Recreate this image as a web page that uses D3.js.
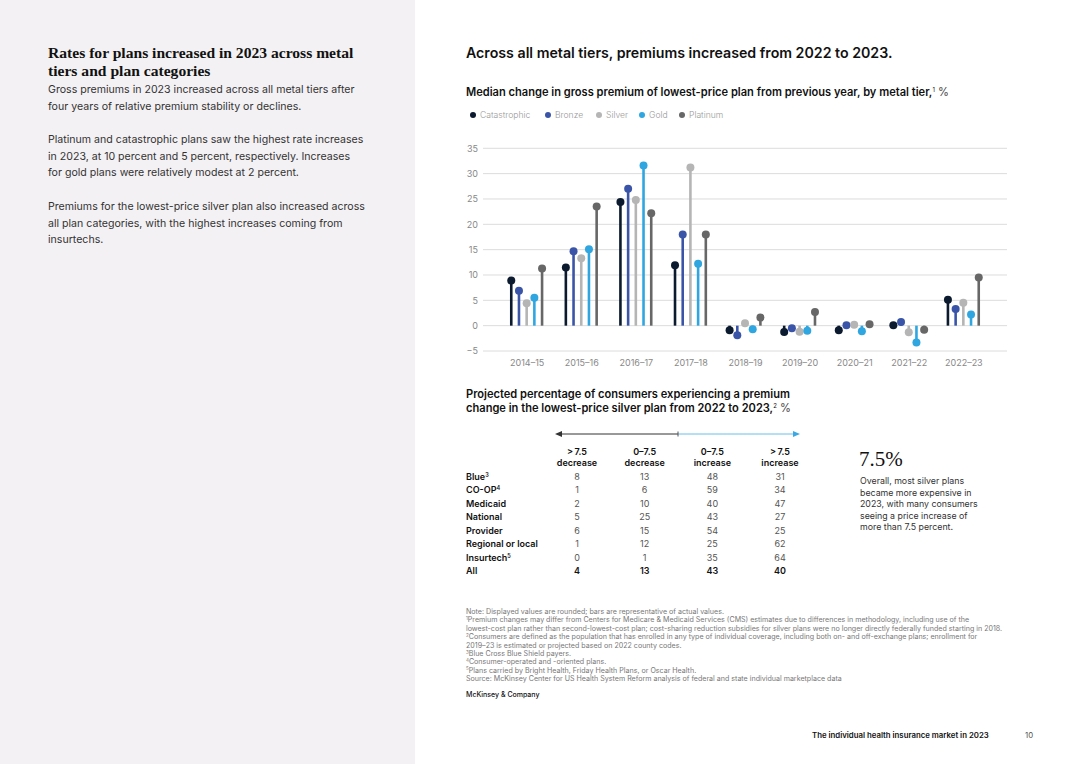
<!DOCTYPE html>
<html><head><meta charset="utf-8">
<script src="https://cdn.jsdelivr.net/npm/d3@7/dist/d3.min.js"></script>
<style>
html,body{margin:0;padding:0;background:#fff;}
svg{display:block;}
</style></head>
<body>
<svg id="c" width="1080" height="764"></svg>
<script>
// ---------- DATA ----------
const periods = ["2014–15","2015–16","2016–17","2017–18","2018–19","2019–20","2020–21","2021–22","2022–23"];
const tiers = ["Catastrophic","Bronze","Silver","Gold","Platinum"];
const catastrophic = [8.9, 11.5, 24.4, 11.9, -0.9, -1.25, -0.9, 0.1, 5.1];
const bronze       = [6.9, 14.7, 27.0, 18.0, -1.9, -0.5, 0.1, 0.7, 3.3];
const silver       = [4.4, 13.3, 24.8, 31.2, 0.5, -1.2, 0.2, -1.3, 4.5];
const gold         = [5.5, 15.1, 31.6, 12.2, -0.7, -1.0, -1.1, -3.3, 2.2];
const platinum     = [11.3, 23.5, 22.2, 18.0, 1.6, 2.7, 0.3, -0.8, 9.5];
const yTicks = [-5,0,5,10,15,20,25,30,35];

const tableCols = [[">\u20097.5","decrease"],["0–7.5","decrease"],["0–7.5","increase"],[">\u20097.5","increase"]];
const tableRows = ["Blue","CO-OP","Medicaid","National","Provider","Regional or local","Insurtech","All"];
const tableSup  = ["3","4","","","","","5",""];
const tableVals = [
  [8,13,48,31],[1,6,59,34],[2,10,40,47],[5,25,43,27],[6,15,54,25],[1,12,25,62],[0,1,35,64],[4,13,43,40]
];

const colors = {Catastrophic:"#0b1a2e", Bronze:"#3a55a8", Silver:"#b5b5b5", Gold:"#2fa6e0", Platinum:"#676767"};
const series = {Catastrophic:catastrophic, Bronze:bronze, Silver:silver, Gold:gold, Platinum:platinum};

const svg = d3.select("#c");
const SANS = "Inter, 'Noto Sans', sans-serif";

// left panel
svg.append("rect").attr("x",0).attr("y",0).attr("width",415).attr("height",764).attr("fill","#f3f1f3");

const leftTitle = ["Rates for plans increased in 2023 across metal","tiers and plan categories"];
svg.append("g").selectAll("text").data(leftTitle).join("text")
  .attr("x",48).attr("y",(d,i)=>58+i*18).text(d=>d)
  .attr("font-family","'Liberation Serif', serif").attr("font-weight","bold").attr("font-size",15.6).attr("fill","#111");

const leftBody = [
 ["Gross premiums in 2023 increased across all metal tiers after",93],
 ["four years of relative premium stability or declines.",110],
 ["Platinum and catastrophic plans saw the highest rate increases",143],
 ["in 2023, at 10 percent and 5 percent, respectively. Increases",160],
 ["for gold plans were relatively modest at 2 percent.",176],
 ["Premiums for the lowest-price silver plan also increased across",210],
 ["all plan categories, with the highest increases coming from",227],
 ["insurtechs.",243]
];
svg.append("g").selectAll("text").data(leftBody).join("text")
  .attr("x",48).attr("y",d=>d[1]).text(d=>d[0])
  .attr("font-family",SANS).attr("font-size",10.6).attr("fill","#333");

// right titles
svg.append("text").attr("x",466).attr("y",58).text("Across all metal tiers, premiums increased from 2022 to 2023.")
  .attr("font-family",SANS).attr("font-weight",600).attr("font-size",14.2).attr("fill","#111");
const sub = svg.append("text").attr("x",466).attr("y",96)
  .attr("font-family",SANS).attr("font-weight",600).attr("font-size",11.1).attr("fill","#111");
sub.append("tspan").text("Median change in gross premium of lowest-price plan from previous year, by metal tier,");
sub.append("tspan").text("1").attr("font-size",6).attr("dy",-4).attr("font-weight",400);
sub.append("tspan").text(" %").attr("dy",4).attr("font-weight",400).attr("fill","#444");

// legend
const legX = [473, 548, 599, 642, 682];
const leg = svg.append("g").selectAll("g").data(tiers).join("g")
  .attr("transform",(d,i)=>`translate(${legX[i]},115)`);
leg.append("circle").attr("r",3).attr("fill",d=>colors[d]);
leg.append("text").attr("x",7).attr("y",3).text(d=>d)
  .attr("font-family",SANS).attr("font-weight",300).attr("font-size",8.6).attr("fill","#999");

// chart
const x = d3.scalePoint().domain(periods).range([483,1007]).padding(0.8);
const y = d3.scaleLinear().domain([-5,35]).range([351,148.3]);
const off = d3.scalePoint().domain(tiers).range([-15.4,15.4]);

const grid = svg.append("g");
grid.selectAll("line").data(yTicks).join("line")
  .attr("x1",483).attr("x2",1007).attr("y1",d=>y(d)).attr("y2",d=>y(d))
  .attr("stroke","#dcdcdc").attr("stroke-width",1);

const yAxis = svg.append("g").attr("transform","translate(483,0)")
  .call(d3.axisLeft(y).tickValues(yTicks).tickSize(0).tickPadding(5).tickFormat(d=>d<0?"−"+Math.abs(d):d));
yAxis.select(".domain").remove();
yAxis.selectAll("text").attr("font-family",SANS).attr("font-size",9).attr("fill","#888");

const xAxis = svg.append("g").attr("transform","translate(0,351)")
  .call(d3.axisBottom(x).tickSize(0).tickPadding(9));
xAxis.select(".domain").remove();
xAxis.selectAll("text").attr("font-family",SANS).attr("font-size",9).attr("fill","#888");

const pts = [];
periods.forEach((p,i)=>tiers.forEach(t=>pts.push({p,t,v:series[t][i]})));
const marks = svg.append("g");
marks.selectAll("line").data(pts).join("line")
  .attr("x1",d=>x(d.p)+off(d.t)).attr("x2",d=>x(d.p)+off(d.t))
  .attr("y1",y(0)).attr("y2",d=>y(d.v))
  .attr("stroke",d=>colors[d.t]).attr("stroke-width",2.6);
marks.selectAll("circle").data(pts).join("circle")
  .attr("cx",d=>x(d.p)+off(d.t)).attr("cy",d=>y(d.v)).attr("r",4)
  .attr("fill",d=>colors[d.t]);

// table title
const tt = ["Projected percentage of consumers experiencing a premium","change in the lowest-price silver plan from 2022 to 2023,"];
const ttg = svg.append("g").attr("font-family",SANS).attr("font-weight",600).attr("font-size",11.1).attr("fill","#111");
ttg.append("text").attr("x",466).attr("y",398).text(tt[0]);
const t2 = ttg.append("text").attr("x",466).attr("y",412);
t2.append("tspan").text(tt[1]);
t2.append("tspan").text("2").attr("font-size",6).attr("dy",-4).attr("font-weight",400);
t2.append("tspan").text(" %").attr("dy",4).attr("font-weight",400).attr("fill","#444");

// arrow
const colX = d3.scalePoint().domain(d3.range(4)).range([577,780]);
svg.append("line").attr("x1",560).attr("x2",678).attr("y1",434).attr("y2",434).attr("stroke","#333").attr("stroke-width",1);
svg.append("path").attr("d","M555,434 L562,431 L562,437 Z").attr("fill","#333");
svg.append("line").attr("x1",678).attr("x2",793).attr("y1",434).attr("y2",434).attr("stroke","#6bbfe8").attr("stroke-width",1);
svg.append("path").attr("d","M800,434 L793,431 L793,437 Z").attr("fill","#3aa9e3");
svg.append("line").attr("x1",678).attr("x2",678).attr("y1",431.5).attr("y2",436.5).attr("stroke","#555").attr("stroke-width",1);

const hdr = svg.append("g").attr("font-family",SANS).attr("font-weight",600).attr("font-size",9).attr("fill","#111").attr("text-anchor","middle");
tableCols.forEach((c,i)=>{
  hdr.append("text").attr("x",colX(i)).attr("y",455).text(c[0]);
  hdr.append("text").attr("x",colX(i)).attr("y",466).text(c[1]);
});
const rowY = d3.scalePoint().domain(d3.range(tableRows.length)).range([480,574]);
tableRows.forEach((r,i)=>{
  const t = svg.append("text").attr("x",466).attr("y",rowY(i)).attr("font-family",SANS).attr("font-weight",600).attr("font-size",9).attr("fill","#111");
  t.append("tspan").text(r);
  if(tableSup[i]) t.append("tspan").text(tableSup[i]).attr("font-size",5.5).attr("dy",-3);
  tableVals[i].forEach((v,j)=>{
    svg.append("text").attr("x",colX(j)).attr("y",rowY(i)).attr("text-anchor","middle").text(v)
      .attr("font-family",SANS).attr("font-size",9).attr("font-weight",r==="All"?600:400).attr("fill",r==="All"?"#111":"#555");
  });
});

// callout
svg.append("text").attr("x",859).attr("y",466).text("7.5%").attr("font-family","'Liberation Serif', serif").attr("font-size",21).attr("fill","#111");
const callout = ["Overall, most silver plans","became more expensive in","2023, with many consumers","seeing a price increase of","more than 7.5 percent."];
svg.append("g").selectAll("text").data(callout).join("text")
  .attr("x",860).attr("y",(d,i)=>484+i*11.5).text(d=>d)
  .attr("font-family",SANS).attr("font-size",8.8).attr("fill","#333");

// footnotes
const notes = [
 ["Note: Displayed values are rounded; bars are representative of actual values.",""],
 ["Premium changes may differ from Centers for Medicare & Medicaid Services (CMS) estimates due to differences in methodology, including use of the","1"],
 [" lowest-cost plan rather than second-lowest-cost plan; cost-sharing reduction subsidies for silver plans were no longer directly federally funded starting in 2018.",""],
 ["Consumers are defined as the population that has enrolled in any type of individual coverage, including both on- and off-exchange plans; enrollment for","2"],
 [" 2019–23 is estimated or projected based on 2022 county codes.",""],
 ["Blue Cross Blue Shield payers.","3"],
 ["Consumer-operated and -oriented plans.","4"],
 ["Plans carried by Bright Health, Friday Health Plans, or Oscar Health.","5"],
 [" Source: McKinsey Center for US Health System Reform analysis of federal and state individual marketplace data",""]
];
notes.forEach((n,i)=>{
  const t = svg.append("text").attr("x",466).attr("y",614+i*8.4).attr("font-family",SANS).attr("font-size",7.1).attr("fill","#777");
  if(n[1]) t.append("tspan").text(n[1]).attr("font-size",4.5).attr("dy",-2.5);
  t.append("tspan").text(n[0]).attr("dy",n[1]?2.5:0);
});
svg.append("text").attr("x",466).attr("y",697).text("McKinsey & Company").attr("font-family",SANS).attr("font-weight",500).attr("font-size",7).attr("fill","#111");

// footer
svg.append("text").attr("x",812).attr("y",738).text("The individual health insurance market in 2023").attr("font-family",SANS).attr("font-weight",600).attr("font-size",7.8).attr("fill","#111");
svg.append("text").attr("x",1025).attr("y",738).text("10").attr("font-family",SANS).attr("font-size",7.8).attr("fill","#555");
</script>
</body></html>
